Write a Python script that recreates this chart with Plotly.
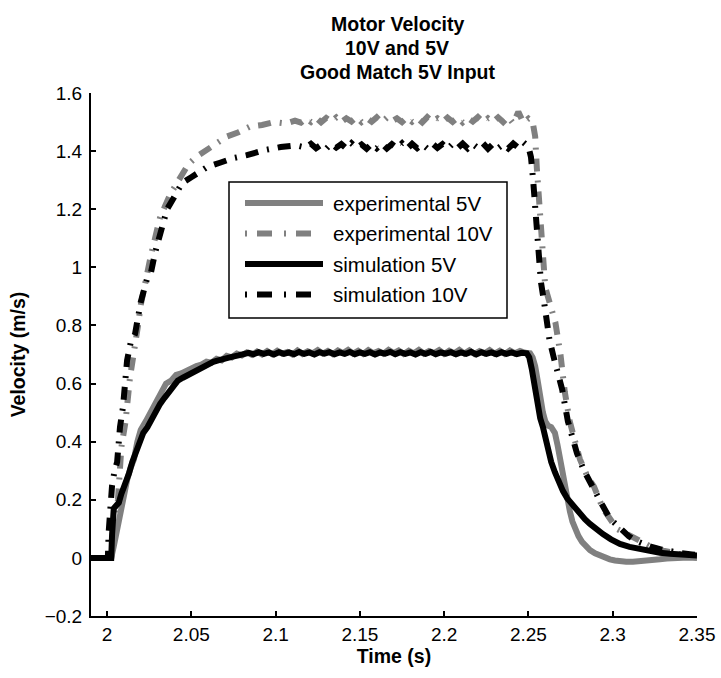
import plotly.graph_objects as go

# ---------------- measured motor velocity (time in s, velocity in m/s) ----------------
EXP5_T = [
    1.9905, 2.0025, 2.0040, 2.0060, 2.0080, 2.0100, 2.0120, 2.0140, 2.0160, 2.0180,
    2.0200, 2.0230, 2.0260, 2.0290, 2.0320, 2.0350, 2.0380, 2.0410, 2.0440, 2.0470,
    2.0500, 2.0530, 2.0560, 2.0590, 2.0620, 2.0650, 2.0680, 2.0710, 2.0740,
    2.077, 2.080, 2.083, 2.086, 2.089, 2.092, 2.095, 2.098, 2.101, 2.104,
    2.107, 2.110, 2.113, 2.116, 2.119, 2.122, 2.125, 2.128, 2.131, 2.134,
    2.137, 2.140, 2.143, 2.146, 2.149, 2.152, 2.155, 2.158, 2.161, 2.164,
    2.167, 2.170, 2.173, 2.176, 2.179, 2.182, 2.185, 2.188, 2.191, 2.194,
    2.197, 2.200, 2.203, 2.206, 2.209, 2.212, 2.215, 2.218, 2.221, 2.224,
    2.227, 2.230, 2.233, 2.236, 2.239, 2.242, 2.245, 2.248,
    2.2510, 2.2525, 2.2540, 2.2555, 2.2570, 2.2586, 2.2600, 2.2616, 2.2635, 2.2657,
    2.2672, 2.2687, 2.2702, 2.2717, 2.2732, 2.2746, 2.2761, 2.2776, 2.2797, 2.2818,
    2.2840, 2.2865, 2.2895, 2.2924, 2.2955, 2.2983, 2.3013, 2.3043, 2.3080, 2.3120,
    2.3161, 2.3200, 2.3240, 2.3280, 2.3320, 2.3360, 2.3400, 2.3450, 2.3500,
]
EXP5_V = [
    0.000, 0.000, 0.040, 0.100, 0.170, 0.220, 0.270, 0.310, 0.340, 0.400,
    0.440, 0.470, 0.500, 0.530, 0.560, 0.600, 0.610, 0.630, 0.635, 0.645,
    0.655, 0.660, 0.665, 0.675, 0.672, 0.685, 0.680, 0.695, 0.690,
    0.703, 0.697, 0.707, 0.699, 0.710, 0.700, 0.712, 0.701, 0.713, 0.703,
    0.709, 0.700, 0.714, 0.702, 0.711, 0.704, 0.715, 0.703, 0.712, 0.701,
    0.714, 0.705, 0.716, 0.703, 0.713, 0.702, 0.715, 0.704, 0.712, 0.703,
    0.716, 0.705, 0.714, 0.702, 0.713, 0.704, 0.716, 0.703, 0.712, 0.705,
    0.715, 0.702, 0.713, 0.704, 0.716, 0.703, 0.714, 0.702, 0.712, 0.704,
    0.715, 0.703, 0.713, 0.702, 0.714, 0.704, 0.712, 0.706,
    0.704, 0.690, 0.660, 0.610, 0.550, 0.500, 0.470, 0.455, 0.450, 0.430,
    0.390, 0.340, 0.280, 0.230, 0.190, 0.160, 0.125, 0.100, 0.075, 0.055,
    0.040, 0.027, 0.016, 0.008, 0.000, -0.005, -0.009, -0.012, -0.013, -0.013,
    -0.012, -0.010, -0.007, -0.005, -0.002, 0.000, 0.000, 0.001, 0.000,
]

EXP10_T = [
    1.9905, 2.0025, 2.0035, 2.0050, 2.0065, 2.0085, 2.0110, 2.0136, 2.0160, 2.0184,
    2.0200, 2.0220, 2.0240, 2.0260, 2.0285, 2.0314, 2.0344, 2.0374, 2.0415, 2.0450,
    2.0483, 2.0530, 2.0580, 2.0640, 2.0710, 2.0780, 2.0850, 2.0920, 2.0990, 2.1060,
    2.1115,
    2.115, 2.118, 2.121, 2.124, 2.127, 2.130, 2.133, 2.136, 2.139, 2.142,
    2.145, 2.148, 2.151, 2.154, 2.157, 2.160, 2.163, 2.166, 2.169, 2.172,
    2.175, 2.178, 2.181, 2.184, 2.187, 2.190, 2.193, 2.196, 2.199, 2.202,
    2.205, 2.208, 2.211, 2.214, 2.217, 2.220, 2.223, 2.226, 2.229, 2.232,
    2.235, 2.238, 2.241, 2.244, 2.247, 2.250,
    2.2525, 2.2540, 2.2550, 2.2565, 2.2578, 2.2600, 2.2630, 2.2660, 2.2690, 2.2716,
    2.2745, 2.2775, 2.2805, 2.2850, 2.2889, 2.2942, 2.2985, 2.3025, 2.3075, 2.3120,
    2.3180, 2.3238, 2.3300, 2.3357, 2.3420, 2.3500,
]
EXP10_V = [
    0.000, 0.000, 0.050, 0.120, 0.200, 0.380, 0.470, 0.620, 0.700, 0.800,
    0.870, 0.930, 1.000, 1.040, 1.100, 1.170, 1.210, 1.250, 1.290, 1.320,
    1.355, 1.380, 1.400, 1.420, 1.450, 1.465, 1.485, 1.490, 1.500, 1.495,
    1.505,
    1.498, 1.512, 1.500, 1.515, 1.499, 1.514, 1.501, 1.516, 1.500, 1.513,
    1.502, 1.517, 1.500, 1.514, 1.501, 1.516, 1.499, 1.515, 1.502, 1.513,
    1.500, 1.516, 1.501, 1.514, 1.499, 1.517, 1.502, 1.513, 1.500, 1.515,
    1.501, 1.516, 1.499, 1.514, 1.502, 1.517, 1.500, 1.513, 1.501, 1.516,
    1.500, 1.518, 1.495, 1.535, 1.498, 1.512,
    1.500, 1.450, 1.340, 1.220, 1.080, 0.930, 0.870, 0.810, 0.700, 0.570,
    0.470, 0.400, 0.340, 0.280, 0.245, 0.170, 0.130, 0.100, 0.085, 0.070,
    0.050, 0.035, 0.025, 0.017, 0.010, 0.005,
]

# ---------------- simulated motor velocity ----------------
SIM5_T = [
    1.9905, 2.0025, 2.0030, 2.0040, 2.0055, 2.0070, 2.0085, 2.0100, 2.0115, 2.0130,
    2.0150, 2.0170, 2.0190, 2.0215, 2.0240, 2.0265, 2.0290, 2.0315, 2.0340, 2.0365,
    2.0390, 2.0420, 2.0450, 2.0480, 2.0510, 2.0540, 2.0570, 2.0600, 2.0630, 2.0660,
    2.0700, 2.0740, 2.0780,
    2.081, 2.084, 2.087, 2.090, 2.093, 2.096, 2.099, 2.102, 2.105, 2.108,
    2.111, 2.114, 2.117, 2.120, 2.123, 2.126, 2.129, 2.132, 2.135, 2.138,
    2.141, 2.144, 2.147, 2.150, 2.153, 2.156, 2.159, 2.162, 2.165, 2.168,
    2.171, 2.174, 2.177, 2.180, 2.183, 2.186, 2.189, 2.192, 2.195, 2.198,
    2.201, 2.204, 2.207, 2.210, 2.213, 2.216, 2.219, 2.222, 2.225, 2.228,
    2.231, 2.234, 2.237, 2.240, 2.243, 2.246,
    2.2490, 2.2505, 2.2520, 2.2535, 2.2556, 2.2570, 2.2586, 2.2600, 2.2616, 2.2635,
    2.2657, 2.2680, 2.2705, 2.2730, 2.2758, 2.2780, 2.2805, 2.2835, 2.2865, 2.2900,
    2.2942, 2.2990, 2.3043, 2.3100, 2.3161, 2.3220, 2.3280, 2.3340, 2.3400, 2.3450,
    2.3500,
]
SIM5_V = [
    0.000, 0.000, 0.080, 0.170, 0.180, 0.190, 0.220, 0.240, 0.270, 0.290,
    0.330, 0.360, 0.400, 0.430, 0.450, 0.480, 0.500, 0.530, 0.550, 0.570,
    0.590, 0.610, 0.620, 0.630, 0.640, 0.650, 0.660, 0.670, 0.675, 0.680,
    0.688, 0.692, 0.697,
    0.700, 0.706, 0.701, 0.708, 0.702, 0.707, 0.700, 0.708, 0.702, 0.707,
    0.701, 0.709, 0.702, 0.707, 0.700, 0.708, 0.703, 0.708, 0.701, 0.707,
    0.702, 0.709, 0.701, 0.707, 0.702, 0.708, 0.700, 0.707, 0.703, 0.709,
    0.701, 0.708, 0.702, 0.707, 0.700, 0.708, 0.702, 0.709, 0.701, 0.707,
    0.703, 0.708, 0.701, 0.707, 0.702, 0.709, 0.700, 0.708, 0.702, 0.707,
    0.701, 0.708, 0.702, 0.707, 0.701, 0.706,
    0.704, 0.690, 0.650, 0.590, 0.510, 0.480, 0.450, 0.410, 0.370, 0.330,
    0.295, 0.260, 0.230, 0.205, 0.185, 0.165, 0.150, 0.133, 0.117, 0.100,
    0.082, 0.064, 0.048, 0.038, 0.030, 0.023, 0.018, 0.014, 0.012, 0.010,
    0.008,
]

SIM10_T = [
    1.9905, 2.0005, 2.0010, 2.0015, 2.0020, 2.0030, 2.0045, 2.0060, 2.0077, 2.0095,
    2.0119, 2.0140, 2.0166, 2.0200, 2.0237, 2.0260, 2.0285, 2.0320, 2.0356, 2.0397,
    2.0445, 2.0500, 2.0550, 2.0593, 2.0670, 2.0750, 2.0830, 2.0930, 2.1030, 2.1120,
    2.1180,
    2.121, 2.124, 2.127, 2.130, 2.133, 2.136, 2.139, 2.142, 2.145, 2.148,
    2.151, 2.154, 2.157, 2.160, 2.163, 2.166, 2.169, 2.172, 2.175, 2.178,
    2.181, 2.184, 2.187, 2.190, 2.193, 2.196, 2.199, 2.202, 2.205, 2.208,
    2.211, 2.214, 2.217, 2.220, 2.223, 2.226, 2.229, 2.232, 2.235, 2.238,
    2.241, 2.244, 2.247,
    2.2500, 2.2515, 2.2528, 2.2540, 2.2556, 2.2574, 2.2598, 2.2625, 2.2650, 2.2675,
    2.2700, 2.2734, 2.2760, 2.2788, 2.2830, 2.2865, 2.2900, 2.2940, 2.2984, 2.3020,
    2.3055, 2.3095, 2.3132, 2.3180, 2.3220, 2.3280, 2.3340, 2.3400, 2.3470, 2.3500,
]
SIM10_V = [
    0.000, 0.000, 0.090, 0.160, 0.210, 0.250, 0.300, 0.330, 0.450, 0.520,
    0.680, 0.740, 0.770, 0.880, 0.960, 0.980, 1.050, 1.130, 1.200, 1.240,
    1.290, 1.310, 1.330, 1.345, 1.360, 1.376, 1.386, 1.403, 1.414, 1.420,
    1.412,
    1.425, 1.410, 1.422, 1.408, 1.426, 1.412, 1.424, 1.409, 1.427, 1.411,
    1.423, 1.408, 1.425, 1.410, 1.426, 1.409, 1.424, 1.411, 1.427, 1.408,
    1.425, 1.410, 1.423, 1.409, 1.426, 1.411, 1.424, 1.408, 1.425, 1.410,
    1.426, 1.409, 1.424, 1.411, 1.427, 1.408, 1.425, 1.410, 1.423, 1.409,
    1.426, 1.412, 1.430,
    1.415, 1.380, 1.300, 1.220, 1.080, 0.950, 0.860, 0.750, 0.690, 0.630,
    0.580, 0.470, 0.420, 0.360, 0.300, 0.265, 0.220, 0.180, 0.135, 0.115,
    0.100, 0.075, 0.060, 0.048, 0.040, 0.030, 0.022, 0.017, 0.012, 0.010,
]

SERIES_NAMES = ["experimental 5V", "experimental 10V", "simulation 5V", "simulation 10V"]
X_TICKS = [2.0, 2.05, 2.1, 2.15, 2.2, 2.25, 2.3, 2.35]
Y_TICKS = [-0.2, 0.0, 0.2, 0.4, 0.6, 0.8, 1.0, 1.2, 1.4, 1.6]
TITLE_LINES = ["Motor Velocity", "10V and 5V", "Good Match 5V Input"]

# ---------------- styling ----------------
W, H = 721, 678
M_L, M_R, M_T, M_B = 91, 24, 93, 62
FONT = "Liberation Sans, Arial, Helvetica, sans-serif"
GRAY = "#808080"
BLACK = "#000000"
LW = 6
PLOT_DASH = "2px,9px,13px,9px"
KEY_DASH = "2px,10px,15px,12px"

styles = [
    dict(color=GRAY, width=LW, dash="solid"),
    dict(color=GRAY, width=LW, dash=PLOT_DASH),
    dict(color=BLACK, width=LW, dash="solid"),
    dict(color=BLACK, width=LW, dash=PLOT_DASH),
]
key_dash = ["solid", KEY_DASH, "solid", KEY_DASH]

fig = go.Figure()
for name, t, v, st in zip(
    SERIES_NAMES,
    [EXP5_T, EXP10_T, SIM5_T, SIM10_T],
    [EXP5_V, EXP10_V, SIM5_V, SIM10_V],
    styles,
):
    fig.add_trace(go.Scatter(x=t, y=v, mode="lines", name=name, line=st,
                             showlegend=False, hoverinfo="x+y+name"))

plot_w = W - M_L - M_R
plot_h = H - M_T - M_B


def px_x(px):
    return (px - M_L) / plot_w


def px_y(py):
    return (H - M_B - py) / plot_h


# framed key box with line samples and labels
fig.add_shape(type="rect", xref="paper", yref="paper",
              x0=px_x(229), x1=px_x(507), y0=px_y(318), y1=px_y(182),
              line=dict(color=BLACK, width=1.5), fillcolor="white", layer="above")
for i, (name, st) in enumerate(zip(SERIES_NAMES, styles)):
    row_y = 203 + i * 30.5
    fig.add_shape(type="line", xref="paper", yref="paper",
                  x0=px_x(245), x1=px_x(323), y0=px_y(row_y), y1=px_y(row_y),
                  line=dict(color=st["color"], width=LW, dash=key_dash[i]), layer="above")
    fig.add_annotation(xref="paper", yref="paper", x=px_x(331), y=px_y(row_y),
                       text=name, showarrow=False, xanchor="left", yanchor="middle",
                       font=dict(family=FONT, size=20.5, color=BLACK))

# three-line title
for i, line in enumerate(TITLE_LINES):
    fig.add_annotation(xref="paper", yref="paper", x=px_x(397), y=px_y(24 + 24 * i),
                       text=line, showarrow=False, xanchor="center", yanchor="middle",
                       font=dict(family=FONT, size=19.5, color=BLACK, weight="bold"))

axis_common = dict(
    showgrid=False, zeroline=False, showline=True, linecolor=BLACK, linewidth=2,
    ticks="inside", ticklen=5, tickwidth=1.5, tickcolor=BLACK, mirror=False,
    tickfont=dict(family=FONT, size=19, color=BLACK), automargin=False,
)

fig.update_layout(
    width=W, height=H,
    margin=dict(l=M_L, r=M_R, t=M_T, b=M_B),
    paper_bgcolor="white", plot_bgcolor="white",
    font=dict(family=FONT, color=BLACK),
    xaxis=dict(range=[1.9905, 2.35], tickvals=X_TICKS,
               title=dict(text="Time (s)", standoff=4,
                          font=dict(family=FONT, size=19.5, color=BLACK, weight="bold")),
               **axis_common),
    yaxis=dict(range=[-0.2, 1.6], tickvals=Y_TICKS, ticklabelstandoff=3,
               title=dict(text="Velocity (m/s)", standoff=14,
                          font=dict(family=FONT, size=19.5, color=BLACK, weight="bold")),
               **axis_common),
)

fig.write_html("out.html")
